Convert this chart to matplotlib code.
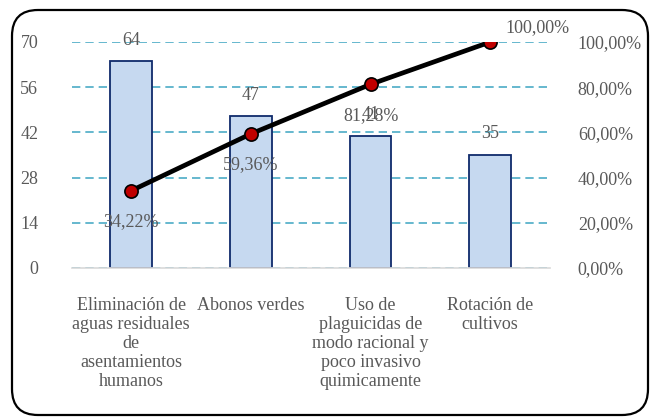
import matplotlib
matplotlib.use("Agg")
import matplotlib.pyplot as plt
from matplotlib.patches import FancyBboxPatch
from matplotlib.transforms import IdentityTransform

plt.rcParams['font.family'] = ['Liberation Serif', 'DejaVu Serif']

categories = ["Eliminación de\naguas residuales\nde\nasentamientos\nhumanos",
              "Abonos verdes",
              "Uso de\nplaguicidas de\nmodo racional y\npoco invasivo\nquimicamente",
              "Rotación de\ncultivos"]
values = [64, 47, 41, 35]
cumulative = [34.22, 59.36, 81.28, 100.00]
left_ticks = [0, 14, 28, 42, 56, 70]
right_ticks = [0, 20, 40, 60, 80, 100]

W, H = 655, 418
fig = plt.figure(figsize=(W / 100, H / 100), dpi=100)
fig.patch.set_facecolor('white')

# rounded border
border = FancyBboxPatch((12, 3), 636, 405, boxstyle="round,pad=0,rounding_size=26",
                        transform=IdentityTransform(), facecolor='none',
                        edgecolor='black', linewidth=1.6)
fig.patches.append(border)

x0, x1, ytop, ybot = 71.5, 550, 42, 268
ax = fig.add_axes([x0 / W, (H - ybot) / H, (x1 - x0) / W, (ybot - ytop) / H])
txt = '#595959'
fs = 13

xs = list(range(len(values)))
ax.bar(xs, values, width=0.35, color='#c6d9f0', edgecolor='#0f2a6b', linewidth=1.3, zorder=2)
ax.set_xlim(-0.5, 3.5)
ax.set_ylim(0, 70)
ax.set_yticks(left_ticks)
ax.set_yticklabels([str(t) for t in left_ticks])
ax.set_axisbelow(True)
ax.yaxis.grid(True, color='#4bacc6', linestyle=(0, (5, 3)), linewidth=1.2)
for s in ['top', 'right', 'left']:
    ax.spines[s].set_visible(False)
ax.spines['bottom'].set_color('#d9d9d9')
ax.spines['bottom'].set_linewidth(1.2)
ax.tick_params(axis='y', length=0, pad=24, labelsize=fs, labelcolor=txt)
ax.tick_params(axis='x', length=0, pad=21, labelsize=fs, labelcolor=txt)
ax.set_xticks(xs)
ax.set_xticklabels(categories, linespacing=1.15, va='top', ha='center')

for x, v in zip(xs, values):
    ax.annotate(str(v), (x, v), xytext=(0, 21), textcoords='offset pixels',
                ha='center', va='center', fontsize=fs, color=txt)

ax2 = ax.twinx()
ax2.set_ylim(0, 100)
ax2.set_yticks(right_ticks)
ax2.set_yticklabels([f"{t:.2f}%".replace('.', ',') for t in right_ticks])
for s in ax2.spines.values():
    s.set_visible(False)
ax2.tick_params(axis='y', length=0, pad=20, labelsize=fs, labelcolor=txt)
ax2.plot(xs, cumulative, color='black', linewidth=3.4, marker='o', markersize=9.5,
         markerfacecolor='#c00000', markeredgecolor='black', markeredgewidth=1.2, zorder=5)

for i, (x, c) in enumerate(zip(xs, cumulative)):
    lbl = f"{c:.2f}%".replace('.', ',')
    if i == len(xs) - 1:
        off = (47, 14)
    else:
        off = (0, -31)
    ax2.annotate(lbl, (x, c), xytext=off, textcoords='offset pixels',
                 ha='center', va='center', fontsize=fs, color=txt)

fig.savefig('out.png', dpi=100)
